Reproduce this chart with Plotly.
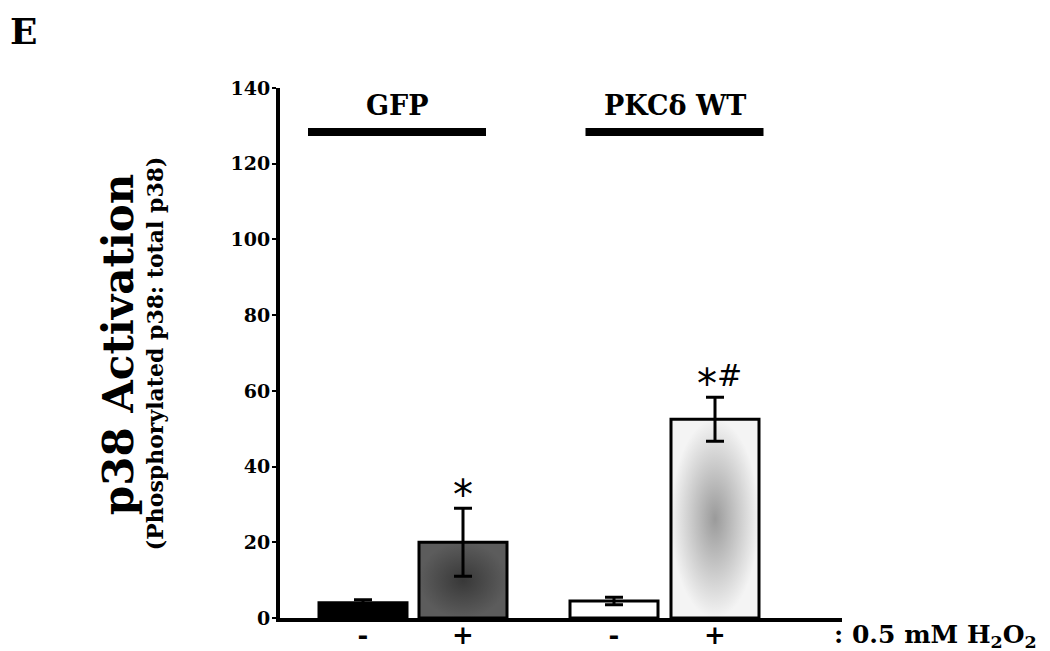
import plotly.graph_objects as go

# ---- data ----
groups = ["GFP", "PKCδ WT"]
treatments = ["-", "+"]
values = [4.0, 20.0, 4.5, 52.5]
errors = [0.8, 9.0, 1.0, 5.8]
significance = ["", "*", "", "*#"]
yticks = [0, 20, 40, 60, 80, 100, 120, 140]

# ---- styling ----
FONT = "Georgia, 'DejaVu Serif', serif"
SANS = "'DejaVu Sans', Arial, sans-serif"
slot = [0.0, 1.0, 2.51, 3.52]          # bar slots on the category axis
bar_w = 0.88
solid_fill = ["#000000", None, "#ffffff", None]
grad = [None, ("#383838", "#5c5c5c"), None, ("#9a9a9a", "#f4f4f4")]
mark_style = {"*": dict(size=40, yshift=13), "#": dict(size=30, yshift=22)}

fig = go.Figure()

# gradient fills (drawn under the bar outlines)
for i, g in enumerate(grad):
    if g is None:
        continue
    x0, x1 = slot[i] - bar_w / 2, slot[i] + bar_w / 2
    fig.add_trace(go.Scatter(
        x=[x0, x0, x1, x1, x0], y=[0, values[i], values[i], 0, 0],
        mode="lines", fill="toself", line=dict(width=0, color="rgba(0,0,0,0)"),
        fillgradient=dict(type="radial", colorscale=[[0, g[0]], [1, g[1]]]),
        hoverinfo="skip", showlegend=False, xaxis="x", yaxis="y"))

fig.add_trace(go.Bar(
    x=slot, y=values, width=bar_w,
    marker=dict(color=[c if c else "rgba(0,0,0,0)" for c in solid_fill],
                line=dict(color="black", width=3)),
    error_y=dict(type="data", array=errors, visible=True, color="black",
                 thickness=3, width=9),
    showlegend=False, xaxis="x", yaxis="y2"))

yaxis_common = dict(range=[0, 140], showgrid=False, zeroline=False, automargin=False)
fig.update_layout(
    width=1042, height=643,
    paper_bgcolor="white", plot_bgcolor="white",
    margin=dict(l=272, r=208, t=80, b=33, autoexpand=False),
    xaxis=dict(range=[-0.83, 4.79], showgrid=False, zeroline=False, automargin=False,
               showline=True, linecolor="black", linewidth=4,
               tickvals=slot, ticktext=treatments * len(groups), ticks="",
               ticklabelstandoff=-9,
               tickfont=dict(family=FONT, size=26, color="black", weight="bold")),
    yaxis=dict(**yaxis_common, showline=True, linecolor="black", linewidth=4,
               tickvals=yticks, ticks="outside", ticklen=4, tickwidth=2,
               tickcolor="black", ticklabelstandoff=-2,
               tickfont=dict(family=FONT, size=19, color="black", weight="bold")),
    yaxis2=dict(**yaxis_common, overlaying="y", visible=False),
)

# group labels and bars over them
group_x = [(slot[0], slot[1]), (slot[2], slot[3])]
label_off = [-0.16, 0.10]
for gname, (a, b), off in zip(groups, group_x, label_off):
    mid = (a + b) / 2 + off
    fig.add_annotation(x=mid, y=135.5, xref="x", yref="y", text=gname,
                       showarrow=False, xanchor="center", yanchor="middle",
                       font=dict(family=FONT, size=27, color="black", weight="bold"))
    fig.add_shape(type="line", x0=mid - 0.89, x1=mid + 0.89, y0=128.4, y1=128.4,
                  xref="x", yref="y", line=dict(color="black", width=8))

# significance marks (one annotation per symbol)
for i, s in enumerate(significance):
    n = len(s)
    for k, ch in enumerate(s):
        dx = 0.0 if n == 1 else (-0.08 if k == 0 else 0.14)
        st = mark_style[ch]
        fig.add_annotation(x=slot[i] + dx, y=values[i] + errors[i], xref="x", yref="y2",
                           text=ch, showarrow=False, xanchor="center", yanchor="middle",
                           yshift=st["yshift"],
                           font=dict(family=SANS, size=st["size"], color="black"))

# axis titles
fig.add_annotation(x=-0.288, y=0.515, xref="paper", yref="paper",
                   xanchor="center", yanchor="middle",
                   text="p38 Activation", textangle=-90, showarrow=False,
                   font=dict(family=FONT, size=42, color="black", weight="bold"))
fig.add_annotation(x=-0.222, y=0.50, xref="paper", yref="paper",
                   xanchor="center", yanchor="middle",
                   text="(Phosphorylated p38: total p38)", textangle=-90, showarrow=False,
                   font=dict(family=FONT, size=22, color="black", weight="bold"))
fig.add_annotation(x=0.982, y=-0.034, xref="paper", yref="paper",
                   xanchor="left", yanchor="middle",
                   text=": 0.5 mM H<sub>2</sub>O<sub>2</sub>", showarrow=False,
                   font=dict(family=FONT, size=25, color="black", weight="bold"))
fig.add_annotation(x=-0.484, y=1.151, xref="paper", yref="paper",
                   xanchor="left", yanchor="top",
                   text="E", showarrow=False,
                   font=dict(family=FONT, size=36, color="black", weight="bold"))

fig.write_html("out.html")
